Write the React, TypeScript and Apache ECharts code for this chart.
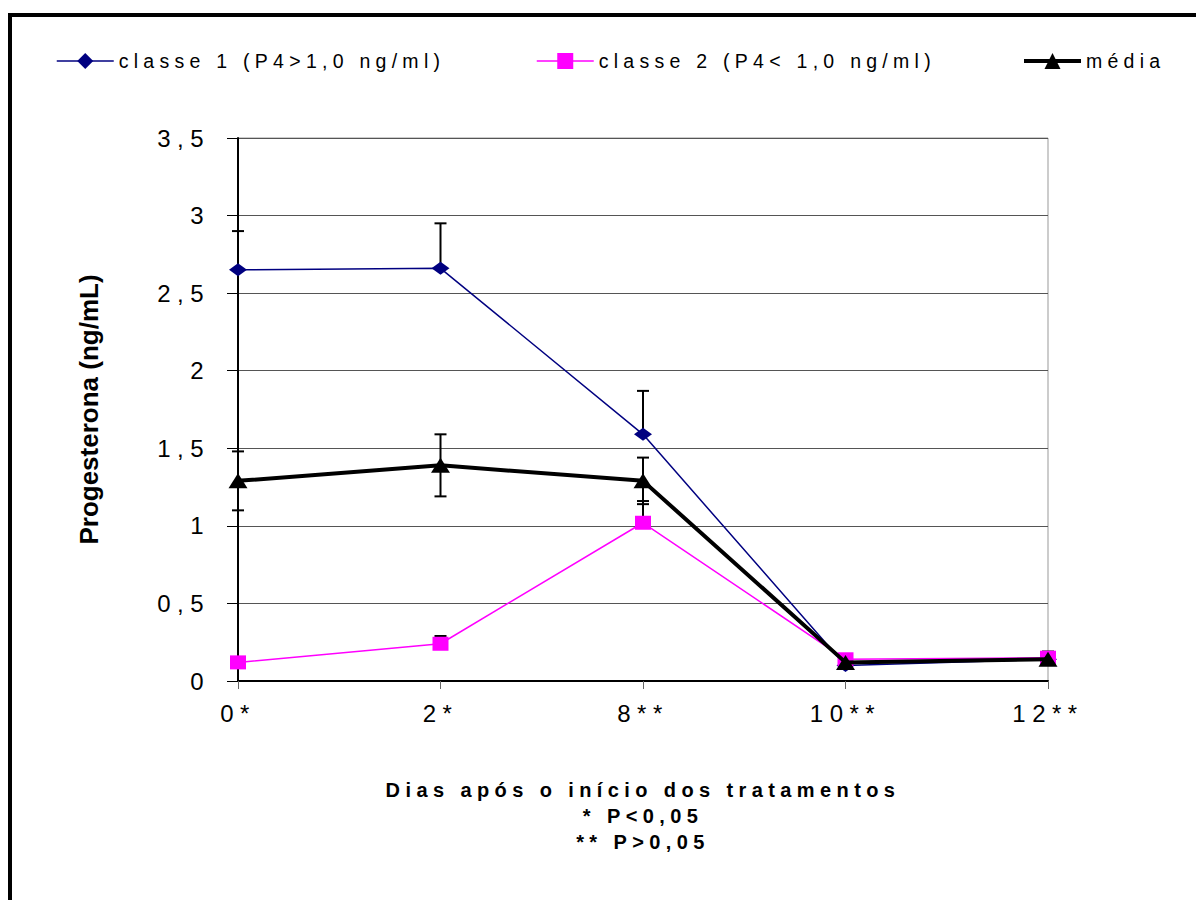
import React, { useEffect, useRef } from "react";
import * as echarts from "echarts";

const categories = ["0*", "2*", "8**", "10**", "12**"];
const classe1Values = [2.65, 2.66, 1.59, 0.1, 0.14];
const classe2Values = [0.12, 0.24, 1.02, 0.14, 0.15];
const mediaValues = [1.29, 1.39, 1.29, 0.12, 0.14];
const classe1ErrPlus = [0.25, 0.29, 0.28, 0, 0];
const classe2ErrPlus = [0, 0.05, 0.14, 0, 0.04];
const mediaErr = [0.19, 0.2, 0.15, 0, 0];

const seriesNames = ["classe 1 (P4>1,0 ng/ml)", "classe 2 (P4< 1,0 ng/ml)", "média"];
const yTitle = "Progesterona (ng/mL)";
const xTitleLines = ["Dias após o início dos tratamentos", "* P<0,05", "** P>0,05"];

const SPACED = "'Liberation Sans', Arial";
const PLAIN = "'Liberation Sans', sans-serif";

function buildErrors() {
  const out: number[][] = [];
  classe1Values.forEach((v, i) => {
    if (classe1ErrPlus[i] > 0) out.push([i, v, v + classe1ErrPlus[i], 0]);
  });
  classe2Values.forEach((v, i) => {
    if (classe2ErrPlus[i] > 0) out.push([i, v, v + classe2ErrPlus[i], 0]);
  });
  mediaValues.forEach((v, i) => {
    if (mediaErr[i] > 0) out.push([i, v - mediaErr[i], v + mediaErr[i], 1]);
  });
  return out;
}

export default function App() {
  const ref = useRef<HTMLDivElement>(null);
  useEffect(() => {
    if (!ref.current) return;
    const chart = echarts.init(ref.current, null, { renderer: "svg" });
    const legendBase = {
      top: 46,
      itemWidth: 57,
      itemHeight: 20,
      textStyle: { fontSize: 19.5, color: "#000", fontFamily: SPACED },
      selectedMode: false,
    };
    chart.setOption({
      animation: false,
      backgroundColor: "#fff",
      graphic: [
        {
          type: "rect",
          shape: { x: 10, y: 15, width: 1400, height: 1000 },
          style: { fill: "none", stroke: "#000", lineWidth: 4 },
          z: 0,
        },
      ],
      legend: [
        { ...legendBase, left: 51, data: [seriesNames[0]], lineStyle: { width: 1.5 } },
        { ...legendBase, left: 531, data: [seriesNames[1]], lineStyle: { width: 1.5 } },
        { ...legendBase, left: 1017, data: [seriesNames[2]], lineStyle: { width: 4 } },
      ],
      grid: {
        left: 238,
        right: 148,
        top: 138,
        bottom: 219,
        show: true,
        borderColor: "#999",
        borderWidth: 1,
        backgroundColor: "transparent",
      },
      xAxis: {
        type: "category",
        data: categories,
        boundaryGap: false,
        axisLine: { lineStyle: { color: "#000", width: 2 } },
        axisTick: { show: true, length: 8, lineStyle: { color: "#666", width: 1 } },
        axisLabel: { fontSize: 24, color: "#000", fontFamily: SPACED, margin: 20 },
        name: xTitleLines.join("\n"),
        nameLocation: "middle",
        nameGap: 96,
        nameTextStyle: {
          fontSize: 20,
          fontWeight: "bold",
          color: "#000",
          fontFamily: SPACED,
          lineHeight: 26,
          align: "center",
        },
      },
      yAxis: {
        type: "value",
        min: 0,
        max: 3.5,
        interval: 0.5,
        axisLine: { show: true, lineStyle: { color: "#000", width: 2 } },
        axisTick: { show: true, length: 11, lineStyle: { color: "#000", width: 1 } },
        splitLine: { show: true, lineStyle: { color: "#555", width: 1 } },
        axisLabel: {
          fontSize: 24,
          color: "#000",
          fontFamily: SPACED,
          margin: 28,
          formatter: (v: number) => String(v).replace(".", ","),
        },
        name: yTitle,
        nameLocation: "middle",
        nameGap: 136,
        nameTextStyle: { fontSize: 26, fontWeight: "bold", color: "#000", fontFamily: PLAIN },
      },
      series: [
        {
          type: "custom",
          name: "err",
          z: 1,
          data: buildErrors(),
          encode: { x: 0, y: [1, 2] },
          renderItem: (params: any, api: any) => {
            const x = api.value(0);
            const lo = api.coord([x, api.value(1)]);
            const hi = api.coord([x, api.value(2)]);
            const hw = 6;
            const st = { stroke: "#000", lineWidth: 2 };
            const children: any[] = [
              { type: "line", shape: { x1: lo[0], y1: lo[1], x2: hi[0], y2: hi[1] }, style: st },
              { type: "line", shape: { x1: hi[0] - hw, y1: hi[1], x2: hi[0] + hw, y2: hi[1] }, style: st },
            ];
            if (api.value(3) === 1) {
              children.push({
                type: "line",
                shape: { x1: lo[0] - hw, y1: lo[1], x2: lo[0] + hw, y2: lo[1] },
                style: st,
              });
            }
            return { type: "group", children };
          },
        },
        {
          type: "line",
          name: seriesNames[0],
          data: classe1Values,
          z: 2,
          symbol: "diamond",
          symbolSize: [18, 13],
          itemStyle: { color: "#000080" },
          lineStyle: { color: "#000080", width: 1.5 },
        },
        {
          type: "line",
          name: seriesNames[1],
          data: classe2Values,
          z: 3,
          symbol: "rect",
          symbolSize: [16, 14],
          itemStyle: { color: "#FF00FF" },
          lineStyle: { color: "#FF00FF", width: 1.5 },
        },
        {
          type: "line",
          name: seriesNames[2],
          data: mediaValues,
          z: 4,
          symbol: "triangle",
          symbolSize: [19, 15],
          itemStyle: { color: "#000" },
          lineStyle: { color: "#000", width: 4 },
        },
      ],
    });
    return () => chart.dispose();
  }, []);
  return (
    <>
      <style>{`text[style*="Arial"]{letter-spacing:0.27em;}`}</style>
      <div
        ref={ref}
        style={{ position: "fixed", left: 0, top: 0, width: 1196, height: 900, background: "#fff" }}
      />
    </>
  );
}
